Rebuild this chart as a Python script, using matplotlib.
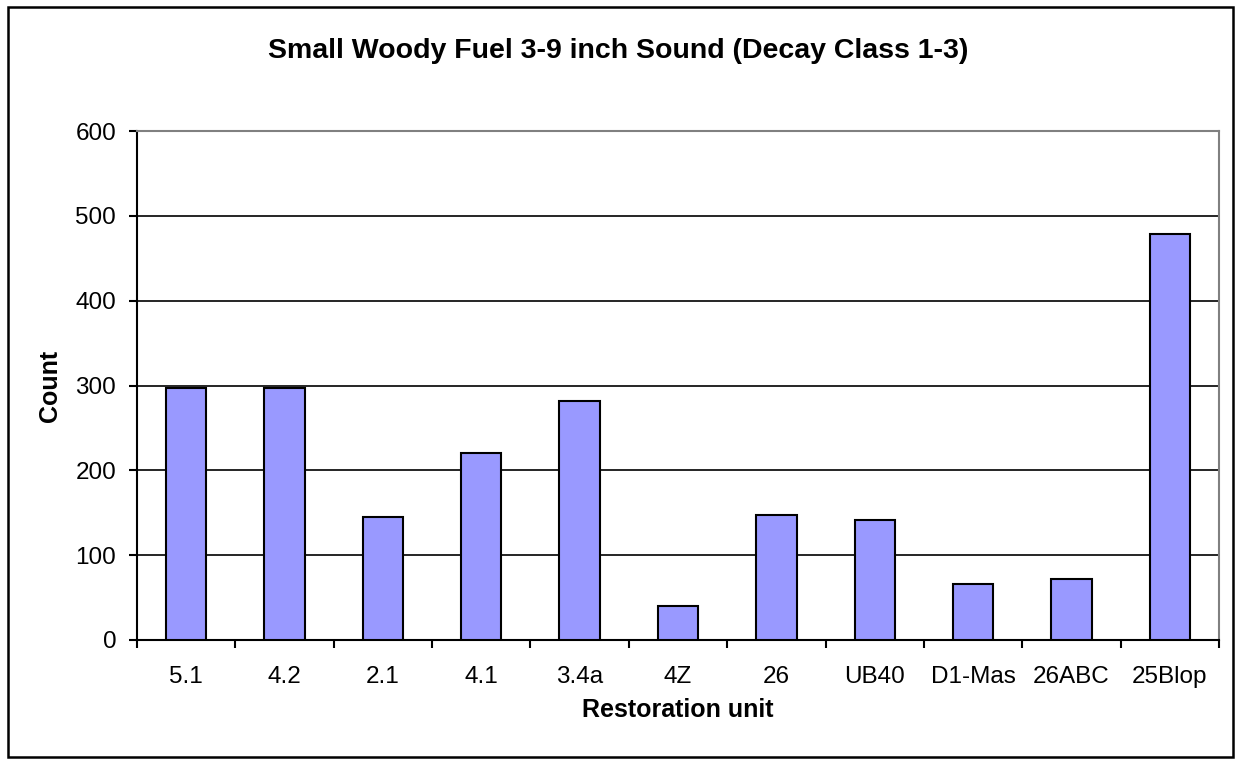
import matplotlib.pyplot as plt
import numpy as np
from matplotlib.patches import Rectangle

units = ['5.1', '4.2', '2.1', '4.1', '3.4a', '4Z', '26', 'UB40', 'D1-Mas', '26ABC', '25Blop']
counts = [297, 297, 145, 220, 282, 40, 147, 141, 66, 72, 478]
y_ticks = [0, 100, 200, 300, 400, 500, 600]

plt.rcParams['font.family'] = ['Liberation Sans', 'DejaVu Sans']

fig = plt.figure(figsize=(12.36, 7.6), dpi=100)
ax = fig.add_axes([137 / 1236, 120 / 760, 1082 / 1236, 509 / 760])

x = np.arange(len(units))
ax.bar(x, counts, width=0.41, color='#9999FF', edgecolor='black', linewidth=1.5, zorder=3)

ax.set_xlim(-0.5, len(units) - 0.5)
ax.set_ylim(0, 600)
ax.set_yticks(y_ticks)
ax.yaxis.grid(True, color='black', linewidth=1.2, zorder=0)

# category labels centred, ticks sit between categories
ax.set_xticks(np.arange(-0.5, len(units)), minor=False)
ax.set_xticklabels([])
ax.set_xticks(x, minor=True)
ax.set_xticklabels(units, minor=True, fontsize=17.5)
ax.tick_params(axis='x', which='minor', length=0, pad=19)
ax.tick_params(axis='x', which='major', length=6, width=1.5, direction='out')
ax.tick_params(axis='y', length=6, width=1.5, direction='out', labelsize=17.5, pad=9)

for side in ['left', 'bottom']:
    ax.spines[side].set_color('black')
    ax.spines[side].set_linewidth(1.5)
for side in ['top', 'right']:
    ax.spines[side].set_color('#808080')
    ax.spines[side].set_linewidth(1.5)

ax.set_xlabel('Restoration unit', fontsize=18, fontweight='bold', labelpad=7)
ax.set_ylabel('Count', fontsize=18, fontweight='bold', labelpad=10)
fig.text(0.5, 1 - 51 / 760, 'Small Woody Fuel 3-9 inch Sound (Decay Class 1-3)',
         ha='center', va='center', fontsize=20.5, fontweight='bold')

# border round the whole chart
fig.patches.append(Rectangle((8 / 1236, 3 / 760), 1225 / 1236, 750 / 760,
                             transform=fig.transFigure, fill=False,
                             edgecolor='black', linewidth=1.8))

fig.savefig('out.png', dpi=100)
